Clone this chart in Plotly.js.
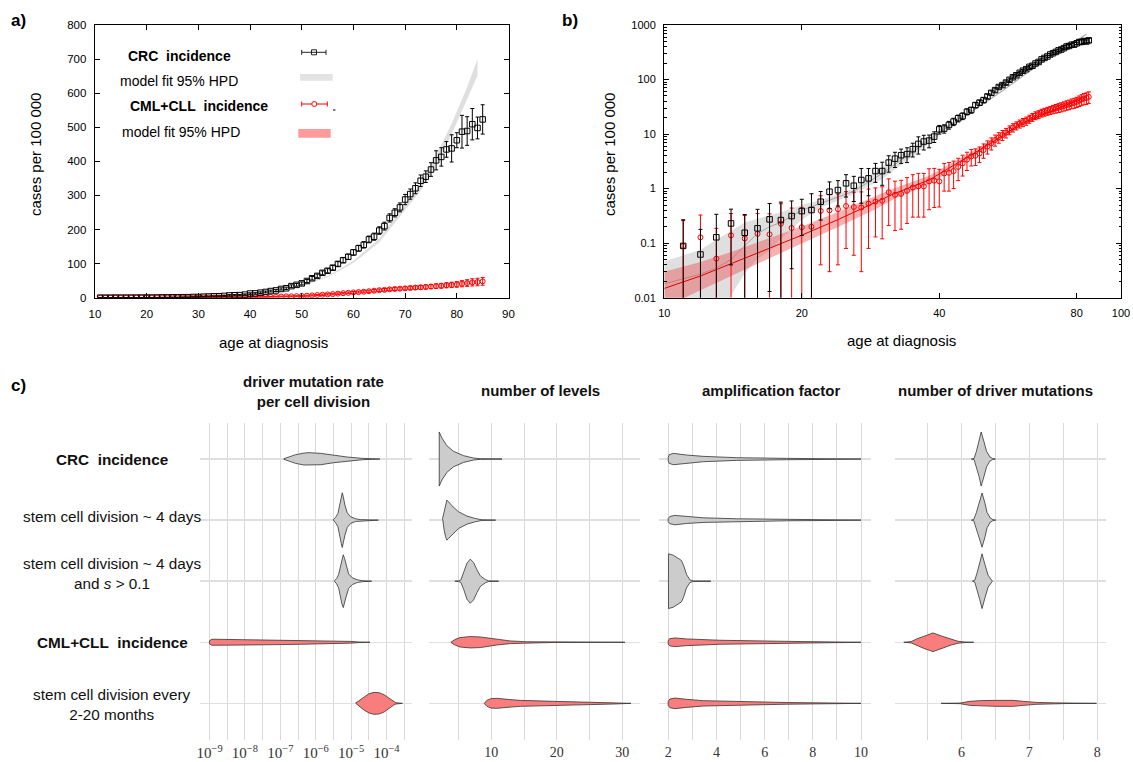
<!DOCTYPE html>
<html><head><meta charset="utf-8">
<script src="https://cdn.plot.ly/plotly-3.0.1.min.js"></script>
<style>html,body{margin:0;padding:0;background:#fff}#chart{width:1133px;height:762px}</style>
</head><body><div id="chart"></div><script>
// ---------------- DATA ----------------
// incidence data (cases per 100 000) by age at diagnosis
const ages = [11,12,13,14,15,16,17,18,19,20,21,22,23,24,25,26,27,28,29,30,31,32,33,34,35,36,37,38,39,40,41,42,43,44,45,46,47,48,49,50,51,52,53,54,55,56,57,58,59,60,61,62,63,64,65,66,67,68,69,70,71,72,73,74,75,76,77,78,79,80,81,82,83,84,85];
const crcIncidence = [0.089,0.062,0.128,0.23,0.155,0.187,0.273,0.265,0.314,0.388, 0.405,0.575,0.877,0.94,1.25,1.13,1.44,1.54,2.1,2.1, 3.0,3.54,4.1,4.3,5.3,6.6,7.3,7.6,9.0,12.2, 12.6,14.7,16.9,19.5,21.4,25.7,27.6,34,37.7,42, 49,57,64,73,79,88,99,110,120,133, 145,155,171,179,197,210,234,249,265,288, 304,321,343,355,376,403,413,435,438,462, 487,489,509,498,523];
const crcError = [0.18,0.117,0.21,0.19,0.18,0.23,0.26,0.3,0.28,0.25, 0.4,0.31,0.45,0.46,0.55,0.55,0.9,0.8,0.8,0.95, 1.0,1.1,1.2,1.3,1.5,2.3,2.2,2.0,2.0,2.2, 2.2,2.4,2.6,2.8,3.0,3.2,3.4,3.7,4.0,4.3, 4.6,5.0,5.3,5.6,6.0,6.4,6.8,7.2,7.7,8.2, 8.7,9.2,9.8,10.4,11,11.5,12,12,13,15, 15,16,17,17,20,28,27,23,40,22, 48,42,46,32,43];
const cmlIncidence = [0.089,0.128,0.052,0.139,0.122,0.148,0.145,0.227,0.19,0.196, 0.2,0.39,0.4,0.42,0.48,0.46,0.45,0.53,0.58,0.6, 0.86,0.77,0.8,0.91,1.05,1.1,1.1,1.36,1.4,1.36, 1.9,1.95,2.1,2.5,2.9,3.4,3.9,4.0,4.4,5.1, 5.9,6.8,7.8,8.7,9.6,10.6,11.9,13.2,14.3,15.5, 16.5,17.5,19,20.5,22,23,24.5,25.5,26.5,27.5, 28.5,29.5,30.5,31.5,32.7,34,35,36.5,37.5,39, 41,43,45,46,48];
const cmlError = [0.17,0.2,0.135,0.21,0.2,0.2,0.2,0.3,0.25,0.25, 0.25,0.35,0.37,0.38,0.4,0.4,0.42,0.45,0.45,0.48, 0.65,0.6,0.62,0.68,0.75,0.8,0.8,0.95,0.95,0.9, 1.0,1.05,1.1,1.1,1.2,1.25,1.3,1.35,1.4,1.5, 1.6,1.7,1.8,1.9,2.0,2.1,2.2,2.3,2.4,2.6, 2.8,3.0,3.2,3.4,3.6,3.8,4.0,4.2,4.4,4.6, 5.0,5.3,5.6,6.0,6.3,6.7,7.0,7.4,7.8,8.2, 9,9.8,10.5,11,11.5];

// model fit 95% HPD bands
const crcModelAge  = [10,12,13,14,15,16,17,18,20,22,24,26,28,30,35,40,45,50,55,60,65,70,73,76,79,82,84];
const crcModelLow  = [0.0005,0.001,0.003,0.011,0.028,0.052,0.07,0.12,0.27,0.45,0.6,0.8,1.1,1.5,3.9,9.5,19.2,34.5,60,101.5,162.5,256,314,392,480,582,652];
const crcModelMid  = [0.018,0.027,0.035,0.05,0.09,0.15,0.2,0.24,0.4,0.53,0.7,0.9,1.35,1.9,4.7,10.7,20,36,62,105,168,265,325,405,495,600,676];
const crcModelHigh = [0.046,0.076,0.114,0.17,0.24,0.28,0.32,0.37,0.5,0.62,0.8,1.0,1.65,2.5,5.7,12,21,37.5,64,108.5,173.5,274,336,418,510,618,700];
const cmlModelAge  = [10,12,14,17,20,24,29,32,38,45,53,60,67,75,80,84];
const cmlModelLow  = [0.0067,0.0138,0.025,0.053,0.098,0.197,0.418,0.656,1.2,2.87,6.84,13.8,20.7,30.4,36.8,43.2];
const cmlModelMid  = [0.0148,0.025,0.042,0.08,0.14,0.27,0.55,0.82,1.44,3.3,7.6,15,22.5,33,40,47];
const cmlModelHigh = [0.030,0.045,0.069,0.124,0.203,0.373,0.715,1.03,1.73,3.8,8.5,16.5,24.8,36.3,44,51.7];

// panel c: posterior violins (value grid and half-width density in row units), rows top->bottom
const rowLabels = ['CRC\u00a0 incidence','stem cell division ~ 4 days','stem cell division ~ 4 days<br>and <i>s</i> &gt; 0.1','CML+CLL\u00a0 incidence','stem cell division every<br>2-20 months'];
const rowBold = [true,false,false,true,false];
const rowGroup = ['crc','crc','crc','cml','cml'];
const panelTitles = ['driver mutation rate<br>per cell division','number of levels','amplification factor','number of driver mutations'];

// log10(driver mutation rate per cell division)
const rateX = [
 [-6.90,-6.76,-6.57,-6.33,-6.19,-5.86,-5.49,-5.11,-4.68,-4.19],
 [-5.505,-5.439,-5.373,-5.316,-5.279,-5.250,-5.222,-5.175,-5.109,-5.014,-4.873,-4.731,-4.231],
 [-5.476,-5.410,-5.354,-5.297,-5.260,-5.222,-5.184,-5.137,-5.071,-4.967,-4.825,-4.684,-4.419],
 [-9.0,-8.933,-8.791,-8.319,-7.375,-6.431,-5.486,-5.014,-4.778,-4.467],
 [-4.873,-4.778,-4.637,-4.495,-4.354,-4.212,-4.070,-3.929,-3.806,-3.739,-3.551]];
const rateW = [
 [0.005,0.038,0.071,0.098,0.104,0.093,0.060,0.033,0.011,0],
 [0.005,0.044,0.109,0.246,0.383,0.448,0.383,0.246,0.120,0.055,0.022,0.008,0],
 [0.005,0.044,0.109,0.246,0.372,0.432,0.372,0.246,0.120,0.055,0.022,0.008,0],
 [0.027,0.049,0.049,0.046,0.041,0.033,0.022,0.014,0.005,0],
 [0.005,0.044,0.109,0.158,0.180,0.175,0.142,0.087,0.033,0.011,0]];
const levelsX = [
 [2.06,2.47,3.23,4.25,5.78,7.31,8.33,11.64],
 [2.57,2.82,3.03,3.23,3.49,4.0,5.01,6.29,7.56,8.58,10.67],
 [4.45,5.01,5.37,5.78,6.29,6.80,7.31,7.82,8.33,9.09,9.6,11.13],
 [3.84,4.45,5.22,6.8,8.33,9.6,10.87,12.9,15.45,19.5,30.4],
 [8.93,9.34,9.95,10.87,12.39,14.43,19.52,24.61,28.68,31.33]];
const levelsW = [
 [0.443,0.344,0.219,0.126,0.055,0.016,0.005,0],
 [0.027,0.164,0.273,0.328,0.30,0.235,0.137,0.066,0.027,0.005,0],
 [0,0.005,0.022,0.131,0.295,0.361,0.306,0.186,0.087,0.027,0.005,0],
 [0,0.044,0.077,0.093,0.087,0.066,0.044,0.022,0.008,0.003,0],
 [0,0.049,0.077,0.082,0.066,0.049,0.033,0.022,0.011,0]];
const amplX = [
 [2.0,2.04,2.21,2.42,2.76,3.45,4.84,6.91,8.99,10.0],
 [2.0,2.07,2.28,2.48,2.76,3.45,4.84,6.91,8.99,10.0],
 [2.01,2.21,2.55,2.65,2.76,2.90,3.04,3.77],
 [2.0,2.07,2.28,2.76,4.14,5.53,7.60,10.0],
 [2.0,2.07,2.28,2.48,2.76,3.45,4.84,6.91,8.99,10.0]];
const amplW = [
 [0.027,0.071,0.093,0.087,0.066,0.044,0.022,0.011,0.005,0],
 [0.027,0.060,0.077,0.071,0.055,0.038,0.022,0.011,0.005,0],
 [0.448,0.426,0.339,0.246,0.109,0.022,0.005,0],
 [0.033,0.060,0.071,0.055,0.033,0.022,0.011,0],
 [0.033,0.071,0.087,0.082,0.066,0.044,0.027,0.014,0.005,0]];
const driversX = [
 [6.147,6.186,6.22,6.26,6.29,6.33,6.37,6.42,6.46,6.50],
 [6.147,6.181,6.22,6.26,6.303,6.343,6.377,6.426,6.466,6.505],
 [6.161,6.196,6.23,6.269,6.303,6.343,6.392,6.455],
 [5.15,5.26,5.34,5.44,5.58,5.73,5.85,5.95,6.05,6.18],
 [5.70,5.98,6.12,6.27,6.51,6.76,6.91,7.10,7.35,7.54,7.99]];
const driversW = [
 [0,0.011,0.126,0.290,0.443,0.290,0.126,0.033,0.008,0],
 [0,0.011,0.126,0.290,0.443,0.290,0.126,0.033,0.008,0],
 [0,0.016,0.137,0.301,0.448,0.284,0.098,0],
 [0,0.011,0.055,0.098,0.153,0.093,0.044,0.016,0.005,0],
 [0,0.005,0.033,0.044,0.049,0.049,0.033,0.016,0.008,0.003,0]];

// tick labels
const rateTickVals = [-9,-8.5,-8,-7.5,-7,-6.5,-6,-5.5,-5,-4.5,-4,-3.5];
const rateTickText = ['10<sup>\u22129</sup>','','10<sup>\u22128</sup>','','10<sup>\u22127</sup>','','10<sup>\u22126</sup>','','10<sup>\u22125</sup>','','10<sup>\u22124</sup>',''];
const levelsTickVals = [5,10,15,20,25,30];
const levelsTickText = ['','10','','20','','30'];
const amplTickVals = [2,3,4,5,6,7,8,9,10];
const amplTickText = ['2','','4','','6','','8','','10'];
const driversTickVals = [5.5,6,6.5,7,7.5,8];
const driversTickText = ['','6','','7','','8'];
const bXTicks = [10,20,40,80,100];
const bYTicks = [0.01,0.1,1,10,100,1000];
const bYTickText = ['0.01','0.1','1','10','100','1000'];

// ---------------- DRAWING ----------------
const W = 1133, H = 762;
const px = p => p / W;
const py = p => 1 - p / H;
const SANS = 'Liberation Sans, Arial, Helvetica, sans-serif';
const SERIF = 'Liberation Serif, Times New Roman, serif';
const GREY_FILL = '#cccccc', RED_FILL = 'rgb(250,125,125)';

const traces = [];
function band(xs, lo, hi, color, xa, ya) {
  traces.push({type:'scatter', mode:'lines', x:xs, y:lo, xaxis:xa, yaxis:ya, line:{width:0, color:color}, hoverinfo:'skip'});
  traces.push({type:'scatter', mode:'lines', x:xs, y:hi, xaxis:xa, yaxis:ya, line:{width:0, color:color}, fill:'tonexty', fillcolor:color, hoverinfo:'skip'});
}
function line(xs, ys, color, w, xa, ya) {
  traces.push({type:'scatter', mode:'lines', x:xs, y:ys, xaxis:xa, yaxis:ya, line:{width:w, color:color}, hoverinfo:'skip'});
}
function series(xs, ys, err, color, symbol, size, xa, ya, logClip) {
  const minus = logClip ? err.map((e,i) => e >= ys[i] ? ys[i]*0.999 : e) : err;
  traces.push({type:'scatter', mode:'markers', x:xs, y:ys, xaxis:xa, yaxis:ya,
    marker:{symbol:symbol, size:size, color:color, line:{width:1, color:color}},
    error_y:{type:'data', symmetric:false, array:err, arrayminus:minus, color:color, thickness:1, width:2},
    hoverinfo:'skip'});
}
function violin(vals, dens, row, fill, xa, ya) {
  const xs = vals.concat(vals.slice().reverse());
  const ys = vals.map((v,i) => row - dens[i]).concat(dens.slice().reverse().map(d => row + d));
  xs.push(xs[0]); ys.push(ys[0]);
  traces.push({type:'scatter', mode:'lines', x:xs, y:ys, xaxis:xa, yaxis:ya, fill:'toself', fillcolor:fill,
    line:{color:'#333', width:0.8}, hoverinfo:'skip'});
}

// panel a
band(crcModelAge, crcModelLow, crcModelHigh, 'rgba(185,185,185,0.45)', 'x', 'y');
band(cmlModelAge, cmlModelLow, cmlModelHigh, 'rgba(240,90,90,0.45)', 'x', 'y');
series(ages, cmlIncidence, cmlError, '#ff0000', 'circle-open', 5, 'x', 'y', false);
series(ages, crcIncidence, crcError, '#000000', 'square-open', 5.5, 'x', 'y', false);
// panel b
band(crcModelAge, crcModelLow, crcModelHigh, 'rgba(175,175,175,0.4)', 'x2', 'y2');
line(crcModelAge, crcModelMid, 'rgba(150,150,150,0.8)', 1, 'x2', 'y2');
band(cmlModelAge, cmlModelLow, cmlModelHigh, 'rgba(235,85,85,0.45)', 'x2', 'y2');
line(cmlModelAge, cmlModelMid, '#e00000', 1, 'x2', 'y2');
series(ages, cmlIncidence, cmlError, '#ff0000', 'circle-open', 5, 'x2', 'y2', true);
series(ages, crcIncidence, crcError, '#000000', 'square-open', 5.5, 'x2', 'y2', true);

// panel c
const cPanels = [[rateX, rateW], [levelsX, levelsW], [amplX, amplW], [driversX, driversW]];
cPanels.forEach((p, k) => {
  const xa = 'x' + (k + 3), ya = 'y' + (k + 3);
  for (let r = 0; r < 5; r++) {
    violin(p[0][r], p[1][r], r + 1, rowGroup[r] === 'crc' ? GREY_FILL : RED_FILL, xa, ya);
  }
});

const frameAxis = {ticks:'inside', ticklen:5, tickwidth:1, tickcolor:'#000', showline:true, linewidth:1.3,
  linecolor:'#000', mirror:'ticks', showgrid:false, zeroline:false, tickfont:{family:SANS, size:11.5, color:'#000'}};
const layout = {
  width:W, height:H, margin:{l:0, r:0, t:0, b:0}, showlegend:false,
  paper_bgcolor:'#fff', plot_bgcolor:'#fff', font:{family:SANS, color:'#000'},
  xaxis:Object.assign({}, frameAxis, {domain:[px(95), px(508.5)], range:[10,90], tick0:10, dtick:10, anchor:'y', ticklabelstandoff:5}),
  yaxis:Object.assign({}, frameAxis, {domain:[py(297.7), py(25)], range:[0,800], tick0:0, dtick:100, anchor:'x', ticklabelstandoff:5}),
  xaxis2:Object.assign({}, frameAxis, {domain:[px(664.3), px(1121)], type:'log', range:[1,2], tickvals:bXTicks, ticktext:bXTicks.map(String), anchor:'y2', ticklabelstandoff:5, tickfont:{family:SANS, size:11, color:'#000'}}),
  yaxis2:Object.assign({}, frameAxis, {domain:[py(297.7), py(25)], type:'log', range:[-2,3], tickvals:bYTicks, ticktext:bYTickText, anchor:'x2', ticklabelstandoff:5, tickfont:{family:SANS, size:11, color:'#000'},
    minor:{ticks:'inside', ticklen:2.5, tickwidth:1, tickcolor:'#000', dtick:'D1', showgrid:false}}),
  annotations:[], shapes:[]
};
const cDomains = [[200,412],[429,640],[659.3,870.7],[895,1106]];
const cRanges = [[-9.27,-3.28],[0.5,32.7],[1.63,10.4],[5.02,8.13]];
const cTicks = [[rateTickVals, rateTickText],[levelsTickVals, levelsTickText],[amplTickVals, amplTickText],[driversTickVals, driversTickText]];
for (let k = 0; k < 4; k++) {
  const n = k + 3;
  layout['xaxis' + n] = {domain:[px(cDomains[k][0]), px(cDomains[k][1])], range:cRanges[k], tickmode:'array',
    tickvals:cTicks[k][0], ticktext:cTicks[k][1], showgrid:true, gridcolor:'#d9d9d9', gridwidth:1, zeroline:false,
    showline:false, ticks:'', tickfont:{family:SERIF, size:k === 0 ? 15 : 14, color:'#333'}, anchor:'y' + n, ticklabelstandoff:2};
  layout['yaxis' + n] = {domain:[py(740), py(423)], range:[5.6,0.41], tickmode:'array', tickvals:[1,2,3,4,5],
    showticklabels:false, showgrid:true, gridcolor:'#e0e0e0', gridwidth:1.5, zeroline:false, showline:false, ticks:'', anchor:'x' + n};
}

const A = layout.annotations;
function txt(text, x, y, opts) {
  A.push(Object.assign({text:text, x:px(x), y:py(y), xref:'paper', yref:'paper', showarrow:false,
    xanchor:'center', yanchor:'middle', font:{family:SANS, size:15, color:'#000'}}, opts || {}));
}
txt('<b>a)</b>', 9, 20, {xanchor:'left', font:{family:SANS, size:17, color:'#000'}});
txt('<b>b)</b>', 560, 20, {xanchor:'left', font:{family:SANS, size:17, color:'#000'}});
txt('<b>c)</b>', 9, 385, {xanchor:'left', font:{family:SANS, size:17, color:'#000'}});
txt('cases per 100 000', 36, 155, {textangle:-90});
txt('age at diagnosis', 273, 342);
txt('cases per 100 000', 610, 155, {textangle:-90});
txt('age at diagnosis', 901, 341);
// legend of panel a
const LEG = {family:SANS, size:14, color:'#000'};
txt('<b>CRC\u00a0 incidence</b>', 179, 56, {font:LEG});
txt('model fit 95% HPD', 179, 80.7, {font:LEG});
txt('<b>CML+CLL\u00a0 incidence</b>', 199, 105.7, {font:LEG});
txt('model fit 95% HPD', 181, 132.3, {font:LEG});
// panel c titles
const cTitleX = [313, 540, 771.7, 995];
panelTitles.forEach((t, k) => txt('<b>' + t + '</b>', cTitleX[k], k === 0 ? 391 : 390.5, {font:{family:SANS, size:15, color:'#111'}}));
// row labels
const rowShift = [0, 4, 8, 0, -1];
rowLabels.forEach((t, r) => {
  A.push({text: rowBold[r] ? '<b>' + t + '</b>' : t, x:px(112), xref:'paper', y:r + 1, yref:'y3', yshift:rowShift[r],
    showarrow:false, xanchor:'center', yanchor:'middle', align:'center', font:{family:SANS, size:15.3, color:'#111'}});
});

// legend symbols (paper coordinates)
const S = layout.shapes;
function pline(x0, y0, x1, y1, color, w) {
  S.push({type:'line', xref:'paper', yref:'paper', x0:px(x0), y0:py(y0), x1:px(x1), y1:py(y1), line:{color:color, width:w}});
}
pline(301.7, 52.3, 326, 52.3, '#222', 1); pline(301.7, 49.8, 301.7, 54.8, '#222', 1); pline(326, 49.8, 326, 54.8, '#222', 1);
S.push({type:'rect', xref:'paper', yref:'paper', x0:px(311.5), x1:px(316.5), y0:py(54.8), y1:py(49.8), line:{color:'#222', width:1}, fillcolor:'rgba(0,0,0,0)'});
S.push({type:'rect', xref:'paper', yref:'paper', x0:px(300), x1:px(332.7), y0:py(80.7), y1:py(74), line:{width:0}, fillcolor:'#e3e3e3'});
pline(301.7, 104, 327.3, 104, '#ff0000', 1); pline(301.7, 101.5, 301.7, 106.5, '#ff0000', 1); pline(327.3, 101.5, 327.3, 106.5, '#ff0000', 1);
S.push({type:'circle', xref:'paper', yref:'paper', x0:px(311.8), x1:px(316.8), y0:py(106.5), y1:py(101.5), line:{color:'#ff0000', width:1}, fillcolor:'#fff'});
S.push({type:'rect', xref:'paper', yref:'paper', x0:px(298.3), x1:px(330.7), y0:py(137.7), y1:py(129), line:{width:0}, fillcolor:'#ff9a9a'});
pline(333, 110, 335.5, 110, '#000', 1);

Plotly.newPlot('chart', traces, layout, {displayModeBar:false, staticPlot:true});
</script></body></html>
